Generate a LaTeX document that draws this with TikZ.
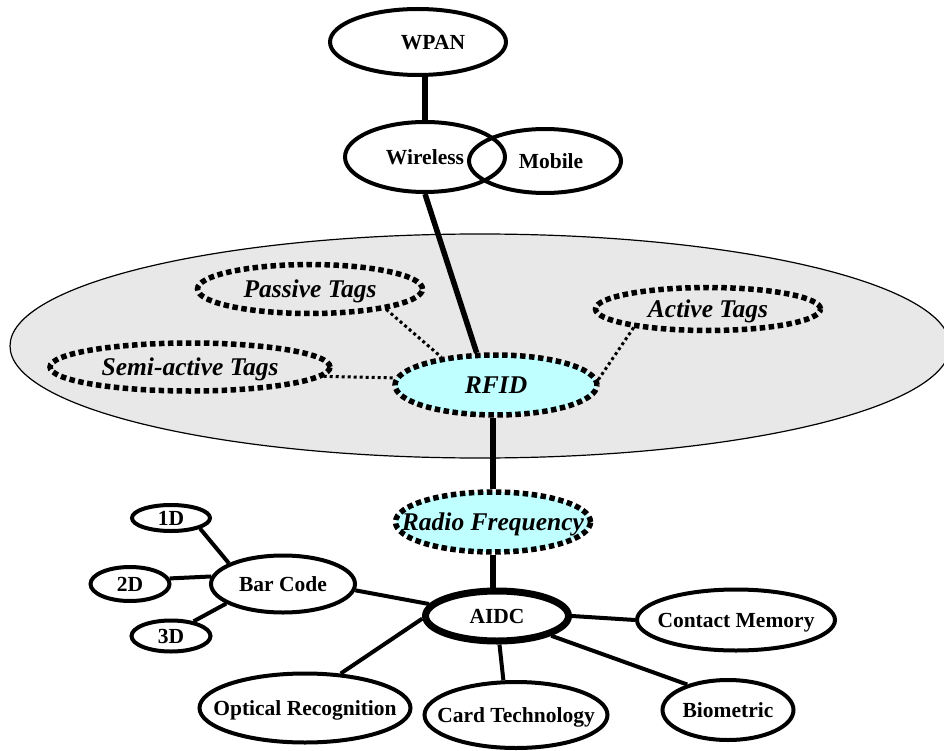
\documentclass[tikz,border=0pt]{standalone}
\usepackage{fontspec}
\setmainfont{Liberation Serif}
\usetikzlibrary{shapes.geometric}
\definecolor{zonegray}{RGB}{232,232,232}
\definecolor{rfcyan}{RGB}{192,255,255}
\newcommand{\zw}[1]{\makebox[0pt]{#1}}

\begin{document}
\begin{tikzpicture}[
    x=1pt, y=-1pt,
    bubble/.style={draw, ellipse, line width=4pt, inner sep=0pt, text depth=0pt,
      font=\fontsize{21.5}{24}\selectfont\bfseries},
    hubbubble/.style={bubble, line width=7pt},
    tagbubble/.style={draw, ellipse, line width=5.5pt, dash pattern=on 5.5pt off 3.5pt,
      inner sep=0pt, text depth=0pt, font=\fontsize{25.5}{28}\selectfont\bfseries\itshape},
    rfbubble/.style={tagbubble, fill=rfcyan},
    zone/.style={draw, ellipse, line width=1.2pt, fill=zonegray},
    link/.style={line width=4pt},
    thicklink/.style={line width=5.5pt},
    taglink/.style={line width=3pt, dash pattern=on 3pt off 3pt},
    ]
    \useasboundingbox (0,0) rectangle (944,751);

    % RFID region
    \node[zone, minimum width=940pt, minimum height=224pt] (zone) at (480,346) {};

    \node[bubble, minimum width=176pt, minimum height=66pt] (wpan) at (418,42) {\zw{\hspace*{30pt}WPAN}};
    \node[bubble, minimum width=160pt, minimum height=70pt] (wireless) at (425,157) {\zw{Wireless}};
    \node[bubble, minimum width=152pt, minimum height=64pt] (mobile) at (545,161) {\zw{\hspace*{12pt}Mobile}};

    \node[tagbubble, minimum width=225pt, minimum height=49pt] (passive) at (310,289) {\zw{Passive Tags}};
    \node[tagbubble, minimum width=280pt, minimum height=48pt] (semiactive) at (190,367) {\zw{Semi-active Tags}};
    \node[tagbubble, minimum width=225pt, minimum height=43pt] (active) at (708,309) {\zw{Active Tags}};
    \node[rfbubble, minimum width=202pt, minimum height=60pt] (rfid) at (496,385) {\zw{RFID}};
    \node[rfbubble, minimum width=195pt, minimum height=60pt] (radiofreq) at (493,522) {\zw{Radio Frequency}};

    \node[hubbubble, minimum width=143pt, minimum height=50pt] (aidc) at (497,616) {\zw{AIDC}};
    \node[bubble, minimum width=198pt, minimum height=61pt] (contactmem) at (736,620) {\zw{Contact Memory}};
    \node[bubble, minimum width=131pt, minimum height=60pt] (biometric) at (728,710) {\zw{Biometric}};
    \node[bubble, minimum width=183pt, minimum height=66pt] (cardtech) at (516,715) {\zw{Card Technology}};
    \node[bubble, minimum width=211pt, minimum height=69pt] (optical) at (305,708) {\zw{Optical Recognition}};
    \node[bubble, minimum width=144pt, minimum height=57pt] (barcode) at (283,584) {\zw{Bar Code}};
    \node[bubble, minimum width=78pt, minimum height=26pt] (oned) at (171,518) {\zw{1D}};
    \node[bubble, minimum width=79pt, minimum height=34pt] (twod) at (130,584) {\zw{2D}};
    \node[bubble, minimum width=79pt, minimum height=31pt] (threed) at (171,636) {\zw{3D}};

    % connectors
    \draw[thicklink] (wpan.south -| wireless.north) -- (wireless.north);
    \draw[thicklink] (wireless.south) -- (rfid.121);
    \draw[taglink] (passive.-15) -- (rfid.153);
    \draw[taglink] (semiactive.-4) -- (rfid.176);
    \draw[taglink] (active.-166) -- (rfid.3);
    \draw[thicklink] (rfid.south -| radiofreq.north) -- (radiofreq.north);
    \draw[thicklink] (radiofreq.south) -- (radiofreq.south |- aidc.north);

    \draw[link] (aidc.east) -- (contactmem.west);
    \draw[link] (aidc.-20) -- (biometric.148);
    \draw[link] (aidc.-85) -- (cardtech.110);
    \draw[link] (aidc.182) -- (optical.44);
    \draw[link] (aidc.170) -- (barcode.-5);
    \draw[link] (barcode.159) -- (oned.-20);
    \draw[link] (barcode.174) -- (twod.8);
    \draw[link] (barcode.-161) -- (threed.33);
\end{tikzpicture}
\end{document}
